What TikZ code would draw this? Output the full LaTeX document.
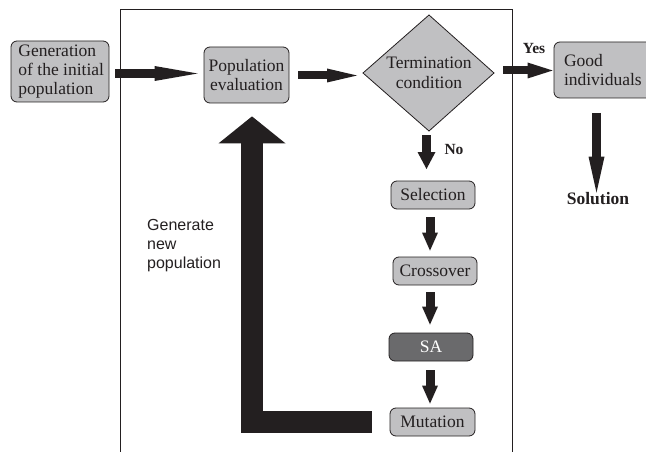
\documentclass[tikz,border=0pt]{standalone}
\usepackage{fontspec}
\setmainfont{Liberation Serif}
\setsansfont{Liberation Sans}
\usetikzlibrary{arrows.meta}
\definecolor{ink}{RGB}{35,31,32}
\definecolor{boxgray}{RGB}{192,192,194}
\definecolor{sagray}{RGB}{106,106,108}
\tikzset{
  box/.style={draw=ink, line width=0.8pt, rounded corners=6pt, fill=boxgray,
    inner sep=0pt, text=ink, font=\fontsize{17.5}{19}\selectfont},
  fat/.style n args={3}{draw=ink, line width=#1,
    -{Triangle[length=#2, width=#3, line width=0pt]}},
  lbl/.style={text=ink, inner sep=0pt},
}
\begin{document}
\begin{tikzpicture}[x=1pt,y=-1pt]
\useasboundingbox (0,0) rectangle (646,452);
% frame
\draw[ink, line width=0.9pt] (120,452) -- (120,9) -- (512,9) -- (512,452);
% nodes
\node[box, minimum width=98pt, minimum height=61pt, align=left] (gen) at (60,71.5)
  {\hspace*{2.5pt}Generation\\\hspace*{2.5pt}of the initial\\\hspace*{2.5pt}population};
\node[box, minimum width=85pt, minimum height=56pt, align=center] (pop) at (246.5,75)
  {Population\\evaluation};
\coordinate (dt) at (429,15);
\coordinate (dr) at (494,73);
\coordinate (db) at (429,131);
\coordinate (dl) at (363,73);
\draw[ink, line width=0.8pt, fill=boxgray] (dt) -- (dr) -- (db) -- (dl) -- cycle;
\node[lbl, align=center, font=\fontsize{17.5}{20}\selectfont] (cond) at (429,73)
  {Termination\\condition};
\node[box, minimum width=100pt, minimum height=56pt, text width=80pt, align=left] (good) at (604,70)
  {Good\\individuals};
\node[box, minimum width=84pt, minimum height=28pt] (sel) at (433,195) {Selection};
\node[box, minimum width=84pt, minimum height=28pt] (cross) at (435,271) {Crossover};
\node[box, minimum width=84pt, minimum height=28pt, fill=sagray, text=white] (sa) at (431,347) {SA};
\node[box, minimum width=85pt, minimum height=28pt] (mut) at (432.5,422) {Mutation};
% labels
\node[lbl, font=\bfseries\fontsize{15.5}{17}\selectfont] (yes) at (534,49) {Yes};
\node[lbl, font=\bfseries\fontsize{15.5}{17}\selectfont] (no) at (454,150) {No};
\node[lbl, font=\bfseries\fontsize{17.5}{19}\selectfont] (sol) at (598,199) {Solution};
\node[lbl, anchor=west, align=left, font=\sffamily\fontsize{16}{19}\selectfont] (gnp) at (147,246)
  {Generate\\new\\population};
% arrows
\draw[fat={9pt}{43pt}{15pt}] ([xshift=6pt]gen.east |- 0,73.5) -- ([xshift=-6pt]pop.west |- 0,73.5);
\draw[fat={8pt}{30pt}{14pt}] ([xshift=9pt]pop.east |- 0,75.5) -- ([xshift=-6pt]dl |- 0,75.5);
\draw[fat={8pt}{25pt}{16pt}] ([xshift=9pt]dr |- 0,70.5) -- ([xshift=-1pt]good.west |- 0,70.5);
\draw[fat={9pt}{36pt}{16pt}] (596.5,113) -- (sol.north -| 596.5,0);
\draw[fat={9pt}{17pt}{18pt}] ([xshift=-2.5pt,yshift=-4pt]db) -- (426.5,169);
\draw[fat={9pt}{18pt}{16pt}] ([xshift=-3pt,yshift=-8pt]sel.south) -- ([xshift=-5pt,yshift=6pt]cross.north);
\draw[fat={9pt}{18pt}{16pt}] ([xshift=-5pt,yshift=-7pt]cross.south) -- ([xshift=-1pt,yshift=8pt]sa.north);
\draw[fat={9pt}{18pt}{16pt}] ([xshift=-1pt,yshift=-9pt]sa.south) -- ([xshift=-2.5pt,yshift=4pt]mut.north);
\draw[fat={22pt}{27pt}{67pt}] ([xshift=-18pt]mut.west) -| ([xshift=5.5pt,yshift=-13pt]pop.south);
\end{tikzpicture}
\end{document}
